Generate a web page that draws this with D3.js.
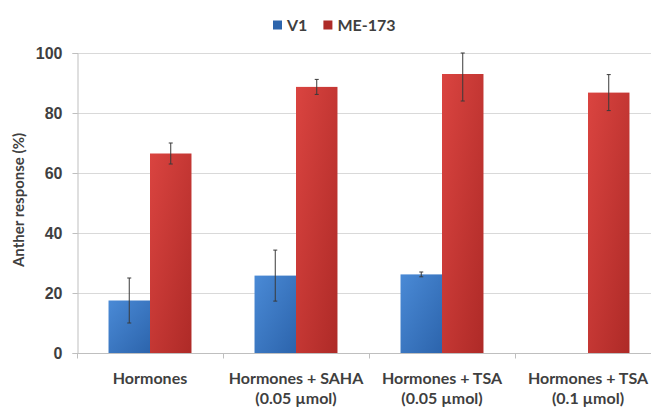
<!DOCTYPE html>
<html>
<head>
<meta charset="utf-8">
<script src="https://cdn.jsdelivr.net/npm/d3@7"></script>
<style>
  html, body { margin: 0; padding: 0; background: #fff; }
  svg { display: block; font-family: Lato, "Open Sans", sans-serif; }
</style>
</head>
<body>
<svg id="chart" width="651" height="408"></svg>
<script>
// Anther response by treatment, two genotypes
const categories = [
  ["Hormones"],
  ["Hormones + SAHA", "(0.05 \u00b5mol)"],
  ["Hormones + TSA", "(0.05 \u00b5mol)"],
  ["Hormones + TSA", "(0.1 \u00b5mol)"]
];
const seriesNames = ["V1", "ME-173"];
const v1Values = [17.5, 25.8, 26.2, 0];
const v1Errors = [7.5, 8.5, 0.8, 0];
const meValues = [66.5, 88.7, 93, 86.8];
const meErrors = [3.5, 2.5, 9, 6];
const yTicks = [0, 20, 40, 60, 80, 100];

const values = [v1Values, meValues];
const errors = [v1Errors, meErrors];
const colors = { "V1": ["#4a8ad6", "#2c64ac"], "ME-173": ["#da4440", "#ae2a27"] };
const textColor = "#3f3f3f";

const svg = d3.select("#chart");
const plotLeft = 77, plotTop = 53, plotBottom = 353, step = 146;

const x0 = d3.scaleBand()
  .domain(d3.range(categories.length))
  .range([plotLeft, plotLeft + step * categories.length])
  .paddingInner(0).paddingOuter(0);
const x1 = d3.scaleBand()
  .domain(seriesNames)
  .range([0, x0.bandwidth()])
  .paddingInner(0).paddingOuter(0.76);
const y = d3.scaleLinear().domain([0, 100]).range([plotBottom, plotTop]);

// gradients
const defs = svg.append("defs");
seriesNames.forEach((s, i) => {
  const g = defs.append("linearGradient").attr("id", "grad" + i)
    .attr("x1", "0").attr("y1", "0").attr("x2", "1").attr("y2", "1");
  g.append("stop").attr("offset", "0%").attr("stop-color", colors[s][0]);
  g.append("stop").attr("offset", "100%").attr("stop-color", colors[s][1]);
});

// gridlines
svg.append("g")
  .selectAll("line").data(yTicks.filter(t => t > 0)).join("line")
  .attr("x1", plotLeft).attr("x2", 651)
  .attr("y1", d => y(d) + 0.5).attr("y2", d => y(d) + 0.5)
  .attr("stroke", "#d9d9d9").attr("stroke-width", 1);

// y axis
const yAxis = svg.append("g").attr("transform", `translate(${plotLeft + 0.5},0)`)
  .call(d3.axisLeft(y).tickValues(yTicks).tickSize(5).tickPadding(10));
yAxis.select(".domain").attr("stroke", "#bfbfbf");
yAxis.selectAll(".tick line").attr("stroke", "#bfbfbf");
yAxis.selectAll("text").attr("fill", textColor).attr("font-size", "16px")
  .attr("font-weight", "bold");

// x axis
const xAxis = svg.append("g").attr("transform", `translate(0,${plotBottom + 0.5})`);
xAxis.append("line").attr("x1", plotLeft).attr("x2", 651)
  .attr("stroke", "#bfbfbf");
xAxis.selectAll("line.tk").data(d3.range(categories.length + 1)).join("line")
  .attr("class", "tk")
  .attr("x1", i => plotLeft + step * i + 0.5).attr("x2", i => plotLeft + step * i + 0.5)
  .attr("y1", 0).attr("y2", 5).attr("stroke", "#bfbfbf");

// bars
const groups = svg.append("g").selectAll("g").data(categories.map((c, i) => i)).join("g")
  .attr("transform", i => `translate(${x0(i)},0)`);
seriesNames.forEach((s, si) => {
  groups.append("rect")
    .attr("x", i => x1(s))
    .attr("width", x1.bandwidth())
    .attr("y", i => y(values[si][i]))
    .attr("height", i => y(0) - y(values[si][i]))
    .attr("fill", `url(#grad${si})`);
});

// error bars
seriesNames.forEach((s, si) => {
  groups.filter(i => values[si][i] > 0).each(function (i) {
    const g = d3.select(this);
    const cx = x1(s) + x1.bandwidth() / 2;
    const hi = Math.min(100, values[si][i] + errors[si][i]);
    const lo = values[si][i] - errors[si][i];
    g.append("line").attr("x1", cx).attr("x2", cx)
      .attr("y1", y(hi)).attr("y2", y(lo))
      .attr("stroke", "#3a3a3a").attr("stroke-width", 1);
    [hi, lo].forEach(v => g.append("line")
      .attr("x1", cx - 2).attr("x2", cx + 2)
      .attr("y1", y(v)).attr("y2", y(v))
      .attr("stroke", "#3a3a3a").attr("stroke-width", 1));
  });
});

// category labels
const labels = svg.append("g");
categories.forEach((lines, i) => {
  const t = labels.append("text")
    .attr("x", x0(i) + x0.bandwidth() / 2)
    .attr("y", 384)
    .attr("text-anchor", "middle")
    .attr("fill", textColor).attr("font-size", "16px").attr("font-weight", "bold");
  lines.forEach((ln, k) => t.append("tspan")
    .attr("x", x0(i) + x0.bandwidth() / 2)
    .attr("dy", k === 0 ? 0 : 20).text(ln));
});

// y title
svg.append("text")
  .attr("transform", `translate(24,200) rotate(-90)`)
  .attr("text-anchor", "middle")
  .attr("fill", textColor).attr("font-size", "15px").attr("font-weight", "bold")
  .text("Anther response (%)");

// legend
const legend = svg.append("g").attr("transform", "translate(273,25)");
let lx = 0;
seriesNames.forEach((s, si) => {
  const item = legend.append("g").attr("transform", `translate(${lx},0)`);
  item.append("rect").attr("x", 0).attr("y", -4.5).attr("width", 9).attr("height", 9)
    .attr("fill", colors[s][1]);
  const txt = item.append("text").attr("x", 14).attr("y", 6)
    .attr("fill", textColor).attr("font-size", "16px").attr("font-weight", "bold")
    .text(s);
  lx += 14 + txt.node().getComputedTextLength() + 16;
});
</script>
</body>
</html>
